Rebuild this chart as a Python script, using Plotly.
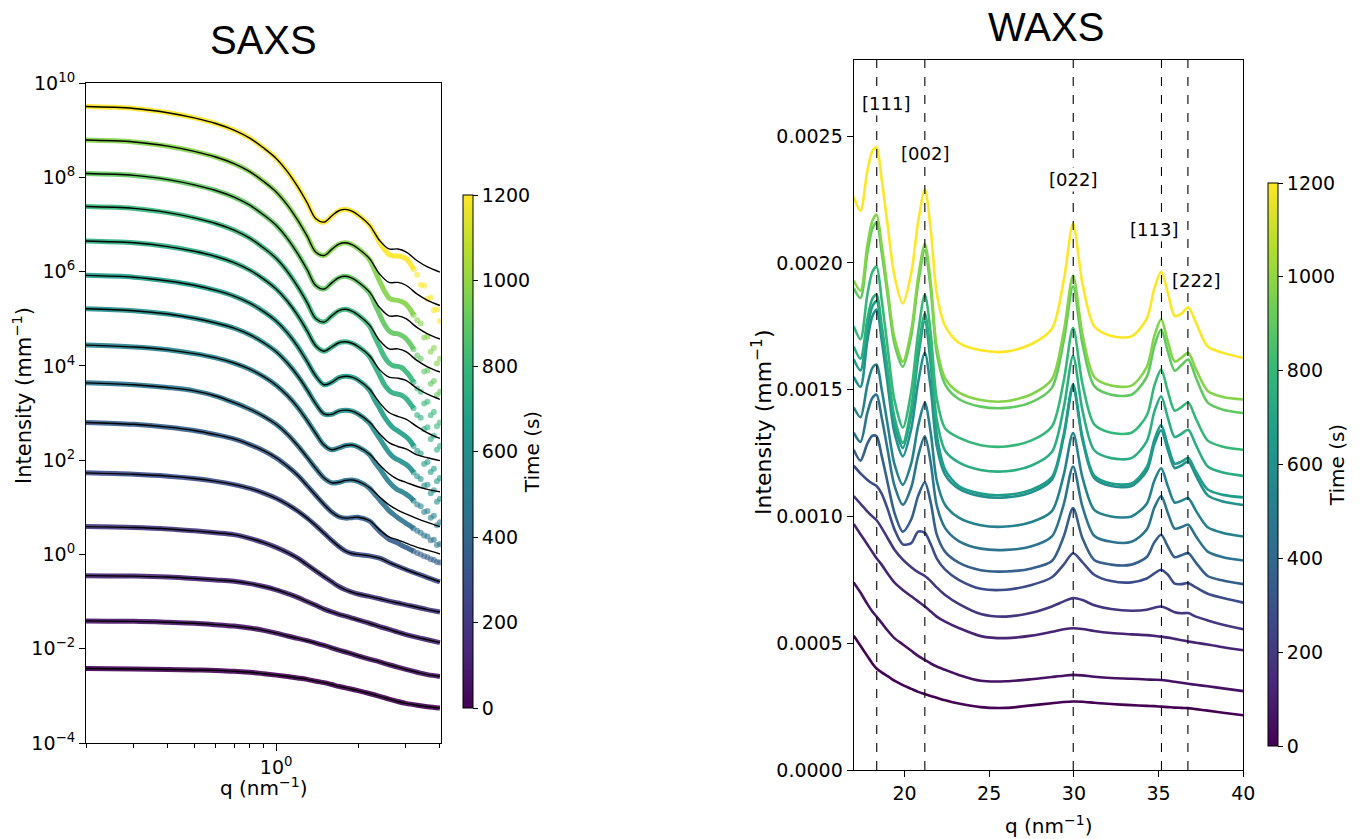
import plotly.graph_objects as go
from plotly.colors import sample_colorscale

# ---------------- SAXS (values are log10 of intensity) ----------------
SAXS_Q = [0.2, 0.3, 0.4, 0.5, 0.6, 0.7, 0.8, 0.9, 1.0, 1.1, 1.2, 1.3, 1.4, 1.5, 1.6,
          1.7, 1.8, 1.9, 2.0, 2.2, 2.4, 2.6, 2.8, 3.0, 3.3, 3.6, 4.0]

SAXS_FIT_01 = [9.50, 9.46, 9.37, 9.26, 9.14, 9.00, 8.83, 8.62, 8.40, 8.12, 7.80, 7.46, 7.12, 7.05, 7.18, 7.29, 7.32, 7.28, 7.20, 6.99, 6.66, 6.48, 6.48, 6.42, 6.23, 6.10, 5.99]
SAXS_FIT_02 = [8.79, 8.75, 8.66, 8.55, 8.43, 8.29, 8.12, 7.91, 7.69, 7.41, 7.09, 6.75, 6.41, 6.34, 6.47, 6.58, 6.61, 6.57, 6.49, 6.28, 5.95, 5.77, 5.77, 5.71, 5.52, 5.39, 5.28]
SAXS_FIT_03 = [8.08, 8.04, 7.95, 7.84, 7.72, 7.58, 7.41, 7.20, 6.98, 6.70, 6.38, 6.04, 5.70, 5.63, 5.76, 5.87, 5.90, 5.86, 5.78, 5.57, 5.24, 5.06, 5.06, 5.00, 4.81, 4.68, 4.57]
SAXS_FIT_04 = [7.38, 7.34, 7.25, 7.14, 7.02, 6.88, 6.71, 6.50, 6.28, 6.00, 5.68, 5.34, 5.00, 4.93, 5.06, 5.17, 5.20, 5.16, 5.08, 4.87, 4.54, 4.36, 4.36, 4.30, 4.11, 3.98, 3.87]
SAXS_FIT_05 = [6.65, 6.61, 6.53, 6.43, 6.32, 6.19, 6.03, 5.84, 5.63, 5.37, 5.07, 4.74, 4.42, 4.31, 4.40, 4.49, 4.51, 4.48, 4.41, 4.22, 3.92, 3.76, 3.74, 3.69, 3.52, 3.40, 3.29]
SAXS_FIT_06 = [5.92, 5.88, 5.80, 5.71, 5.60, 5.48, 5.33, 5.15, 4.95, 4.70, 4.41, 4.09, 3.78, 3.60, 3.65, 3.75, 3.78, 3.76, 3.70, 3.51, 3.22, 3.01, 2.93, 2.87, 2.71, 2.58, 2.46]
SAXS_FIT_07 = [5.21, 5.17, 5.10, 5.01, 4.91, 4.80, 4.66, 4.49, 4.30, 4.06, 3.79, 3.49, 3.19, 2.98, 2.97, 3.04, 3.06, 3.04, 2.98, 2.81, 2.56, 2.37, 2.29, 2.24, 2.11, 2.05, 1.99]
SAXS_FIT_08 = [4.44, 4.40, 4.34, 4.26, 4.17, 4.06, 3.93, 3.77, 3.59, 3.37, 3.12, 2.84, 2.56, 2.32, 2.22, 2.26, 2.31, 2.32, 2.28, 2.13, 1.90, 1.71, 1.59, 1.53, 1.44, 1.38, 1.33]
SAXS_FIT_09 = [3.64, 3.60, 3.54, 3.47, 3.36, 3.22, 3.08, 2.93, 2.76, 2.55, 2.31, 2.06, 1.82, 1.62, 1.52, 1.53, 1.57, 1.58, 1.55, 1.42, 1.22, 1.05, 0.94, 0.86, 0.76, 0.68, 0.59]
SAXS_FIT_10 = [2.80, 2.76, 2.70, 2.63, 2.54, 2.45, 2.33, 2.20, 2.05, 1.87, 1.68, 1.46, 1.25, 1.06, 0.90, 0.80, 0.77, 0.78, 0.79, 0.72, 0.52, 0.37, 0.31, 0.24, 0.15, 0.09, 0.01]
SAXS_FIT_11 = [1.73, 1.70, 1.66, 1.61, 1.55, 1.48, 1.40, 1.30, 1.19, 1.06, 0.92, 0.77, 0.61, 0.45, 0.30, 0.17, 0.07, 0.02, 0.00, -0.03, -0.08, -0.17, -0.25, -0.32, -0.41, -0.49, -0.58]
SAXS_FIT_12 = [0.59, 0.57, 0.54, 0.50, 0.46, 0.42, 0.34, 0.25, 0.15, 0.04, -0.08, -0.22, -0.35, -0.47, -0.58, -0.68, -0.75, -0.80, -0.84, -0.89, -0.94, -0.99, -1.03, -1.07, -1.12, -1.17, -1.22]
SAXS_FIT_13 = [-0.45, -0.46, -0.48, -0.51, -0.54, -0.57, -0.62, -0.68, -0.75, -0.83, -0.91, -1.00, -1.08, -1.16, -1.22, -1.27, -1.31, -1.35, -1.39, -1.46, -1.53, -1.59, -1.65, -1.70, -1.76, -1.81, -1.87]
SAXS_FIT_14 = [-1.41, -1.42, -1.44, -1.46, -1.49, -1.52, -1.56, -1.61, -1.67, -1.73, -1.78, -1.83, -1.88, -1.93, -1.98, -2.03, -2.07, -2.11, -2.15, -2.22, -2.28, -2.34, -2.39, -2.44, -2.50, -2.55, -2.59]
SAXS_FIT_15 = [-2.42, -2.43, -2.44, -2.45, -2.46, -2.48, -2.50, -2.53, -2.56, -2.59, -2.62, -2.65, -2.69, -2.72, -2.76, -2.80, -2.83, -2.86, -2.89, -2.95, -3.01, -3.07, -3.12, -3.16, -3.20, -3.23, -3.26]

# measured data at high q (deviates from the fits)
SAXS_DQ = [2.2, 2.3, 2.4, 2.5, 2.6, 2.7, 2.8, 2.9, 3.0, 3.1, 3.2, 3.3, 3.4, 3.5, 3.6, 3.7, 3.8, 3.9, 4.0]
SAXS_DATA_01 = [6.99, 6.81, 6.62, 6.47, 6.36, 6.33, 6.33, 6.31, 6.28, 6.18, 6.05, 5.93, 5.72, 5.70, 5.42, 5.45, 5.18, 5.20, 4.95]
SAXS_DATA_02 = [6.26, 6.03, 5.80, 5.59, 5.44, 5.40, 5.39, 5.36, 5.31, 5.21, 5.08, 4.97, 4.90, 4.60, 4.62, 4.30, 4.38, 4.05, 4.15]
SAXS_DATA_03 = [5.55, 5.32, 5.09, 4.88, 4.74, 4.69, 4.68, 4.64, 4.58, 4.48, 4.35, 4.22, 4.15, 3.88, 3.90, 3.62, 3.68, 3.38, 3.45]
SAXS_DATA_04 = [4.85, 4.62, 4.40, 4.19, 4.06, 4.00, 3.99, 3.96, 3.88, 3.78, 3.65, 3.52, 3.45, 3.20, 3.24, 2.95, 3.02, 2.72, 2.80]
SAXS_DATA_05 = [4.20, 4.00, 3.80, 3.60, 3.48, 3.42, 3.40, 3.37, 3.31, 3.21, 3.10, 2.96, 2.90, 2.66, 2.70, 2.45, 2.52, 2.22, 2.30]
SAXS_DATA_06 = [3.49, 3.28, 3.10, 2.92, 2.78, 2.68, 2.62, 2.56, 2.50, 2.42, 2.30, 2.20, 2.14, 1.92, 1.96, 1.75, 1.82, 1.55, 1.62]
SAXS_DATA_07 = [2.79, 2.62, 2.46, 2.30, 2.16, 2.06, 2.01, 1.96, 1.91, 1.84, 1.74, 1.66, 1.60, 1.46, 1.48, 1.30, 1.36, 1.12, 1.18]
SAXS_DATA_08 = [2.12, 1.96, 1.82, 1.67, 1.54, 1.44, 1.37, 1.33, 1.28, 1.22, 1.14, 1.06, 1.02, 0.90, 0.92, 0.78, 0.82, 0.62, 0.68]
SAXS_DATA_09 = [1.41, 1.28, 1.16, 1.04, 0.93, 0.85, 0.78, 0.72, 0.66, 0.61, 0.55, 0.50, 0.46, 0.40, 0.38, 0.30, 0.31, 0.20, 0.22]
SAXS_DATA_10 = [0.71, 0.60, 0.49, 0.40, 0.32, 0.28, 0.24, 0.19, 0.15, 0.11, 0.07, 0.03, 0.00, -0.04, -0.06, -0.10, -0.12, -0.16, -0.17]

# acquisition time of each curve (s), top curve first
TIMES = [1200, 975, 900, 800, 745, 660, 600, 530, 460, 360, 280, 190, 120, 60, 0]

SAXS_YTICKS = [-4, -2, 0, 2, 4, 6, 8, 10]
SAXS_XMINOR = [0.2, 0.3, 0.4, 0.5, 0.6, 0.7, 0.8, 0.9, 2, 3, 4]

# ---------------- WAXS (values in units of 1e-3 mm^-1) ----------------
WAXS_Q = [17.0, 17.4, 17.8, 18.1, 18.35, 18.65, 19.0, 19.4, 19.9, 20.4, 20.8, 21.2, 21.55, 21.9,
          22.4, 23.2, 24.5, 26.0, 27.5, 28.7, 29.4, 29.95, 30.5, 31.2, 32.2, 33.4, 34.3, 34.75,
          35.15, 35.55, 35.95, 36.35, 36.75, 37.2, 37.9, 38.8, 40.0]

WAXS_01 = [2.26, 2.205, 2.36, 2.44, 2.455, 2.33, 2.15, 1.95, 1.84, 1.96, 2.16, 2.29, 2.13, 1.88, 1.75, 1.685, 1.655, 1.65, 1.68, 1.74, 1.93, 2.155, 1.92, 1.75, 1.712, 1.71, 1.78, 1.90, 1.965, 1.88, 1.79, 1.80, 1.825, 1.765, 1.67, 1.645, 1.625]
WAXS_02 = [1.93, 1.89, 2.067, 2.165, 2.19, 2.071, 1.897, 1.706, 1.61, 1.736, 1.941, 2.075, 1.919, 1.67, 1.544, 1.489, 1.459, 1.454, 1.482, 1.541, 1.73, 1.95, 1.72, 1.55, 1.516, 1.516, 1.589, 1.712, 1.777, 1.688, 1.611, 1.626, 1.645, 1.581, 1.495, 1.471, 1.461]
WAXS_03 = [1.90, 1.861, 2.036, 2.134, 2.16, 2.043, 1.872, 1.683, 1.59, 1.714, 1.917, 2.05, 1.894, 1.646, 1.52, 1.463, 1.433, 1.428, 1.451, 1.507, 1.693, 1.908, 1.682, 1.514, 1.48, 1.48, 1.55, 1.672, 1.737, 1.649, 1.575, 1.597, 1.619, 1.548, 1.449, 1.421, 1.408]
WAXS_04 = [1.75, 1.699, 1.872, 1.964, 1.985, 1.855, 1.668, 1.461, 1.35, 1.495, 1.722, 1.875, 1.72, 1.466, 1.347, 1.311, 1.281, 1.276, 1.30, 1.355, 1.535, 1.744, 1.524, 1.363, 1.33, 1.33, 1.398, 1.516, 1.579, 1.492, 1.417, 1.431, 1.449, 1.386, 1.299, 1.275, 1.263]
WAXS_05 = [1.67, 1.622, 1.775, 1.858, 1.875, 1.756, 1.584, 1.393, 1.29, 1.429, 1.652, 1.80, 1.641, 1.383, 1.259, 1.213, 1.183, 1.178, 1.201, 1.254, 1.429, 1.632, 1.42, 1.261, 1.23, 1.23, 1.296, 1.413, 1.474, 1.388, 1.313, 1.326, 1.342, 1.282, 1.197, 1.173, 1.16]
WAXS_06 = [1.62, 1.576, 1.739, 1.828, 1.849, 1.731, 1.559, 1.369, 1.27, 1.404, 1.626, 1.77, 1.597, 1.324, 1.184, 1.12, 1.09, 1.085, 1.105, 1.155, 1.324, 1.52, 1.314, 1.161, 1.13, 1.13, 1.194, 1.303, 1.36, 1.279, 1.208, 1.216, 1.23, 1.177, 1.106, 1.085, 1.075]
WAXS_07 = [1.55, 1.511, 1.691, 1.789, 1.816, 1.697, 1.524, 1.332, 1.237, 1.346, 1.527, 1.645, 1.504, 1.279, 1.164, 1.11, 1.08, 1.075, 1.095, 1.145, 1.314, 1.51, 1.304, 1.151, 1.12, 1.12, 1.18, 1.285, 1.34, 1.261, 1.191, 1.201, 1.217, 1.161, 1.083, 1.059, 1.045]
WAXS_08 = [1.43, 1.391, 1.517, 1.585, 1.599, 1.502, 1.363, 1.208, 1.125, 1.21, 1.356, 1.448, 1.329, 1.143, 1.045, 0.995, 0.965, 0.96, 0.978, 1.021, 1.164, 1.329, 1.155, 1.026, 1.0, 1.0, 1.05, 1.142, 1.19, 1.118, 1.055, 1.062, 1.072, 1.023, 0.957, 0.935, 0.921]
WAXS_09 = [1.33, 1.294, 1.407, 1.467, 1.48, 1.391, 1.264, 1.123, 1.046, 1.115, 1.238, 1.316, 1.21, 1.044, 0.954, 0.903, 0.873, 0.868, 0.882, 0.921, 1.048, 1.197, 1.04, 0.924, 0.9, 0.9, 0.948, 1.035, 1.08, 1.013, 0.952, 0.958, 0.967, 0.922, 0.861, 0.839, 0.826]
WAXS_10 = [1.263, 1.22, 1.286, 1.318, 1.316, 1.24, 1.134, 1.016, 0.94, 0.989, 1.08, 1.135, 1.054, 0.929, 0.86, 0.818, 0.788, 0.783, 0.795, 0.824, 0.921, 1.033, 0.915, 0.828, 0.81, 0.81, 0.84, 0.898, 0.928, 0.881, 0.839, 0.847, 0.855, 0.818, 0.765, 0.747, 0.733]
WAXS_11 = [1.20, 1.17, 1.145, 1.13, 1.12, 1.09, 1.03, 0.95, 0.89, 0.895, 0.94, 0.935, 0.89, 0.835, 0.79, 0.75, 0.715, 0.711, 0.73, 0.76, 0.81, 0.855, 0.82, 0.77, 0.745, 0.74, 0.755, 0.775, 0.79, 0.77, 0.735, 0.733, 0.737, 0.72, 0.695, 0.678, 0.66]
WAXS_12 = [1.08, 1.05, 1.02, 1.00, 0.985, 0.955, 0.915, 0.87, 0.83, 0.80, 0.78, 0.765, 0.745, 0.72, 0.69, 0.655, 0.615, 0.605, 0.62, 0.645, 0.665, 0.678, 0.67, 0.65, 0.635, 0.628, 0.632, 0.64, 0.645, 0.635, 0.622, 0.618, 0.619, 0.605, 0.59, 0.573, 0.555]
WAXS_13 = [0.97, 0.93, 0.89, 0.86, 0.835, 0.81, 0.775, 0.74, 0.71, 0.685, 0.665, 0.645, 0.625, 0.605, 0.585, 0.56, 0.528, 0.52, 0.53, 0.545, 0.555, 0.559, 0.556, 0.548, 0.54, 0.535, 0.532, 0.529, 0.526, 0.522, 0.517, 0.512, 0.507, 0.502, 0.495, 0.484, 0.472]
WAXS_14 = [0.74, 0.70, 0.655, 0.625, 0.605, 0.58, 0.55, 0.52, 0.495, 0.47, 0.45, 0.434, 0.42, 0.408, 0.395, 0.375, 0.352, 0.35, 0.358, 0.367, 0.372, 0.375, 0.373, 0.368, 0.363, 0.36, 0.357, 0.356, 0.355, 0.352, 0.348, 0.344, 0.34, 0.336, 0.33, 0.322, 0.311]
WAXS_15 = [0.53, 0.49, 0.45, 0.42, 0.40, 0.385, 0.37, 0.352, 0.335, 0.32, 0.308, 0.30, 0.292, 0.285, 0.275, 0.262, 0.248, 0.245, 0.255, 0.263, 0.268, 0.27, 0.269, 0.265, 0.26, 0.256, 0.253, 0.252, 0.25, 0.248, 0.246, 0.245, 0.244, 0.24, 0.234, 0.226, 0.216]

PEAK_Q = [18.36, 21.20, 29.96, 35.17, 36.73]
PEAK_LABELS = ["[111]", "[002]", "[022]", "[113]", "[222]"]
PEAK_LABEL_X = [18.9, 21.22, 29.94, 34.74, 37.2]
PEAK_LABEL_Y = [2.63, 2.43, 2.33, 2.13, 1.93]

WAXS_XTICKS = [20, 25, 30, 35, 40]
WAXS_YTICKS = [0.0, 0.5, 1.0, 1.5, 2.0, 2.5]
WAXS_YTICKTEXT = ["0.0000", "0.0005", "0.0010", "0.0015", "0.0020", "0.0025"]
CBAR_TICKS = [0, 200, 400, 600, 800, 1000, 1200]

# ---------------------------------------------------------------------
SAXS_FITS = [SAXS_FIT_01, SAXS_FIT_02, SAXS_FIT_03, SAXS_FIT_04, SAXS_FIT_05,
             SAXS_FIT_06, SAXS_FIT_07, SAXS_FIT_08, SAXS_FIT_09, SAXS_FIT_10,
             SAXS_FIT_11, SAXS_FIT_12, SAXS_FIT_13, SAXS_FIT_14, SAXS_FIT_15]
SAXS_DATA = [SAXS_DATA_01, SAXS_DATA_02, SAXS_DATA_03, SAXS_DATA_04, SAXS_DATA_05,
             SAXS_DATA_06, SAXS_DATA_07, SAXS_DATA_08, SAXS_DATA_09, SAXS_DATA_10]
WAXS = [WAXS_01, WAXS_02, WAXS_03, WAXS_04, WAXS_05, WAXS_06, WAXS_07, WAXS_08,
        WAXS_09, WAXS_10, WAXS_11, WAXS_12, WAXS_13, WAXS_14, WAXS_15]

for name, arrs, ref in (("saxs fit", SAXS_FITS, SAXS_Q), ("saxs data", SAXS_DATA, SAXS_DQ), ("waxs", WAXS, WAXS_Q)):
    for i, a in enumerate(arrs):
        if len(a) != len(ref):
            print("length mismatch", name, i, len(a), len(ref))

COLORS = [sample_colorscale("Viridis", [t / 1200.0])[0] for t in TIMES]

fig = go.Figure()

n_low = sum(1 for q in SAXS_Q if q <= 2.0)
n_band = sum(1 for q in SAXS_DQ if q <= 3.2)

# SAXS measured data (coloured), drawn from bottom curve to top curve
for i in reversed(range(len(SAXS_FITS))):
    col = COLORS[i]
    if i < len(SAXS_DATA):
        bx = SAXS_Q[:n_low] + SAXS_DQ[:n_band]
        by = SAXS_FITS[i][:n_low] + SAXS_DATA[i][:n_band]
    else:
        bx = SAXS_Q
        by = SAXS_FITS[i]
    fig.add_trace(go.Scatter(x=bx, y=by, mode="lines", line=dict(color=col, width=5, shape="spline"),
                             opacity=0.9, xaxis="x", yaxis="y", hoverinfo="skip"))
    if i < len(SAXS_DATA):
        fig.add_trace(go.Scatter(x=SAXS_DQ[n_band - 1:], y=SAXS_DATA[i][n_band - 1:], mode="markers",
                                 marker=dict(color=col, size=6, opacity=0.6, line=dict(width=0)),
                                 xaxis="x", yaxis="y", hoverinfo="skip"))

# SAXS fits (black)
for i in range(len(SAXS_FITS)):
    fig.add_trace(go.Scatter(x=SAXS_Q, y=SAXS_FITS[i], mode="lines",
                             line=dict(color="black", width=1.4, shape="spline"),
                             xaxis="x", yaxis="y", hoverinfo="skip"))

# WAXS curves
for i in reversed(range(len(WAXS))):
    fig.add_trace(go.Scatter(x=WAXS_Q, y=WAXS[i], mode="lines",
                             line=dict(color=COLORS[i], width=2.6, shape="spline", smoothing=0.8),
                             xaxis="x2", yaxis="y2", hoverinfo="skip"))

# colourbars
def cbar(x, yc, ln):
    return dict(x=x, xanchor="left", y=yc, yanchor="middle", len=ln, lenmode="fraction",
                thickness=10, thicknessmode="pixels", xpad=0, ypad=0,
                outlinewidth=1, outlinecolor="black", tickvals=CBAR_TICKS,
                ticks="outside", ticklen=5, tickwidth=1, tickcolor="black",
                tickfont=dict(family="DejaVu Sans", size=19, color="black"),
                title=dict(text="Time (s)", side="right",
                           font=dict(family="DejaVu Sans", size=20, color="black")))

fig.add_trace(go.Scatter(x=[None], y=[None], mode="markers", xaxis="x", yaxis="y",
                         marker=dict(color=[0], colorscale="Viridis", cmin=0, cmax=1200, showscale=True,
                                     colorbar=cbar(463 / 1364, 1 - 451.5 / 839, 513 / 839))))
fig.add_trace(go.Scatter(x=[None], y=[None], mode="markers", xaxis="x2", yaxis="y2",
                         marker=dict(color=[0], colorscale="Viridis", cmin=0, cmax=1200, showscale=True,
                                     colorbar=cbar(1268 / 1364, 1 - 464.5 / 839, 563 / 839))))

# peak markers
shapes = []
for q in PEAK_Q:
    shapes.append(dict(type="line", xref="x2", yref="y2 domain", x0=q, x1=q, y0=0, y1=1,
                       line=dict(color="black", width=1.1, dash="dash")))

annotations = []
for lab, lx, ly in zip(PEAK_LABELS, PEAK_LABEL_X, PEAK_LABEL_Y):
    annotations.append(dict(text=lab, x=lx, y=ly, xref="x2", yref="y2", showarrow=False,
                            font=dict(family="DejaVu Sans", size=18, color="black"),
                            bgcolor="white", borderpad=1, xanchor="center", yanchor="middle"))

title_font = dict(family="Liberation Sans", size=40, color="black")
lab_font = dict(family="DejaVu Sans", size=20, color="black")
annotations += [
    dict(text="SAXS", x=263 / 1364, y=1 - 40 / 839, xref="paper", yref="paper", showarrow=False,
         font=title_font, xanchor="center", yanchor="middle"),
    dict(text="WAXS", x=1046 / 1364, y=1 - 27 / 839, xref="paper", yref="paper", showarrow=False,
         font=title_font, xanchor="center", yanchor="middle"),
    dict(text="Intensity (mm<sup>−1</sup>)", x=22 / 1364, y=1 - 396 / 839, xref="paper", yref="paper",
         showarrow=False, textangle=-90, font=dict(family="DejaVu Sans", size=21, color="black"),
         xanchor="center", yanchor="middle"),
    dict(text="q (nm<sup>−1</sup>)", x=263 / 1364, y=1 - 787 / 839, xref="paper", yref="paper",
         showarrow=False, font=lab_font, xanchor="center", yanchor="middle"),
    dict(text="Intensity (mm<sup>−1</sup>)", x=762 / 1364, y=1 - 422 / 839, xref="paper", yref="paper",
         showarrow=False, textangle=-90, font=dict(family="DejaVu Sans", size=22, color="black"),
         xanchor="center", yanchor="middle"),
    dict(text="q (nm<sup>−1</sup>)", x=1048 / 1364, y=1 - 825 / 839, xref="paper", yref="paper",
         showarrow=False, font=lab_font, xanchor="center", yanchor="middle"),
]

axis_common = dict(showline=True, mirror=True, linecolor="black", linewidth=1.2, showgrid=False,
                   zeroline=False, ticks="outside", tickcolor="black", tickwidth=1.2, automargin=False,
                   tickfont=dict(family="DejaVu Sans", size=19, color="black"))

saxs_yticktext = ["10<sup>" + str(v).replace("-", "−") + "</sup>" for v in SAXS_YTICKS]

fig.update_layout(
    width=1364, height=839, margin=dict(l=0, r=0, t=0, b=0, pad=0, autoexpand=False),
    paper_bgcolor="white", plot_bgcolor="white", showlegend=False, hovermode=False,
    font=dict(family="DejaVu Sans", size=19, color="black"),
    xaxis=dict(domain=[86 / 1364, 441 / 1364], type="log", range=[-0.699, 0.606], anchor="y",
               tickmode="array", tickvals=[1], ticktext=["10<sup>0</sup>"], ticklen=7,
               minor=dict(tickmode="array", tickvals=SAXS_XMINOR, ticks="outside", ticklen=4,
                          tickwidth=1, tickcolor="black", showgrid=False),
               **axis_common),
    yaxis=dict(domain=[1 - 743 / 839, 1 - 83 / 839], range=[-4, 10], anchor="x",
               tickmode="array", tickvals=SAXS_YTICKS, ticktext=saxs_yticktext, ticklen=6,
               **axis_common),
    xaxis2=dict(domain=[853.7 / 1364, 1243.3 / 1364], range=[17, 40], anchor="y2",
                tickmode="array", tickvals=WAXS_XTICKS, ticklen=6, **axis_common),
    yaxis2=dict(domain=[1 - 770 / 839, 1 - 60 / 839], range=[0, 2.8], anchor="x2",
                tickmode="array", tickvals=WAXS_YTICKS, ticktext=WAXS_YTICKTEXT, ticklen=6,
                **axis_common),
    shapes=shapes,
    annotations=annotations,
)

fig.write_html("out.html", config={"displayModeBar": False},
               post_script="document.body.style.margin='0';document.body.style.overflow='hidden';")
